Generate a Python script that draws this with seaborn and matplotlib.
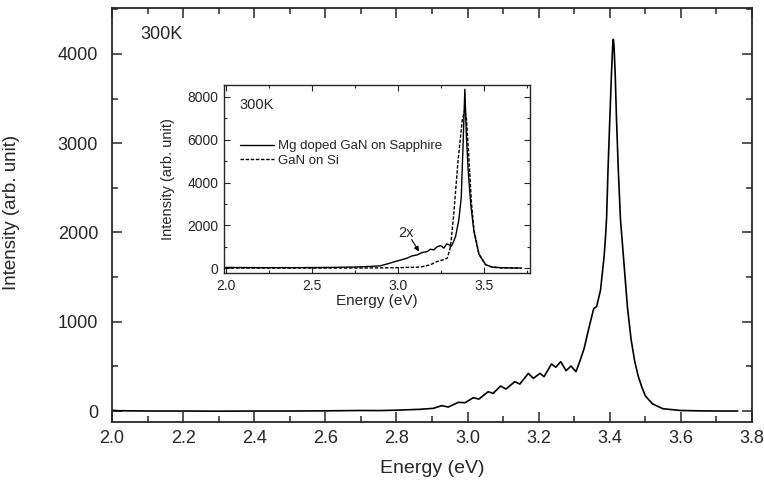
import numpy as np
import pandas as pd
import seaborn as sns
import matplotlib
matplotlib.use("Agg")
import matplotlib.pyplot as plt
from matplotlib.ticker import MultipleLocator

# main spectrum
main_energy = [2.00, 2.02, 2.05, 2.10, 2.20, 2.30, 2.40, 2.50, 2.60, 2.70, 2.754,
               2.81, 2.866, 2.904, 2.927, 2.946, 2.974, 2.993, 3.016, 3.032, 3.058,
               3.072, 3.093, 3.108, 3.133, 3.147, 3.171, 3.185, 3.204, 3.215, 3.236,
               3.248, 3.262, 3.277, 3.291, 3.305, 3.316, 3.328, 3.341, 3.355, 3.363,
               3.374, 3.384, 3.388, 3.391, 3.395, 3.400, 3.405, 3.408, 3.410, 3.412,
               3.415, 3.419, 3.424, 3.43, 3.44, 3.45, 3.46, 3.47, 3.48, 3.49,
               3.50, 3.52, 3.55, 3.60, 3.65, 3.70, 3.76]
main_intensity = [8, 3, 2, 0, 0, -2, 0, 0, 2, 6, 5,
                  11, 19, 30, 60, 45, 97, 93, 149, 134, 216,
                  198, 280, 246, 329, 302, 422, 366, 422, 384, 527,
                  490, 553, 452, 504, 441, 560, 702, 926, 1150, 1169,
                  1356, 1729, 1950, 2160, 2700, 3260, 3800, 4080, 4165, 4080,
                  3800, 3260, 2700, 2150, 1650, 1150, 800, 560, 390, 270,
                  170, 80, 25, 6, 2, 0, 0]

# inset: Mg doped GaN on Sapphire (2x)
mg_energy = [2.00, 2.20, 2.40, 2.60, 2.75, 2.85, 2.901, 2.95, 2.988, 3.02, 3.056,
             3.08, 3.115, 3.14, 3.173, 3.19, 3.211, 3.23, 3.25, 3.269, 3.285,
             3.298, 3.31, 3.318, 3.337, 3.356, 3.37, 3.38, 3.391, 3.40, 3.41,
             3.425, 3.444, 3.473, 3.512, 3.55, 3.60, 3.65, 3.72]
mg_intensity = [30, 20, 20, 30, 50, 80, 107, 220, 310, 380, 466,
                560, 620, 720, 775, 880, 853, 1000, 1054, 932, 1130,
                1100, 1007, 1100, 1473, 2252, 3300, 5600, 8360, 6200, 4600,
                3000, 1700, 650, 154, 50, 20, 10, 0]

# inset: GaN on Si
si_energy = [2.00, 2.40, 2.80, 2.90, 3.00, 3.134, 3.19, 3.231, 3.27, 3.289, 3.308,
             3.327, 3.35, 3.376, 3.391, 3.40, 3.414, 3.43, 3.444, 3.473, 3.512,
             3.55, 3.60, 3.72]
si_intensity = [0, 0, 5, 10, 20, 47, 154, 310, 400, 467, 1010,
                2570, 4900, 6930, 7400, 7000, 5200, 3000, 1800, 650, 150,
                40, 10, 0]

labels = ["Mg doped GaN on Sapphire", "GaN on Si"]

sns.set_style("ticks")
plt.rcParams['font.family'] = ['Liberation Sans', 'DejaVu Sans']
plt.rcParams['xtick.direction'] = 'in'
plt.rcParams['ytick.direction'] = 'in'

fig = plt.figure(figsize=(7.64, 4.86), dpi=100)
ax = fig.add_axes([112 / 764, 1 - 422 / 486, 640 / 764, 414 / 486])

sns.lineplot(x=main_energy, y=main_intensity, color='black', linewidth=1.2, ax=ax)
ax.set_xlim(2.0, 3.8)
ax.set_ylim(-123, 4515)
ax.xaxis.set_major_locator(MultipleLocator(0.2))
ax.xaxis.set_minor_locator(MultipleLocator(0.1))
ax.yaxis.set_major_locator(MultipleLocator(1000))
ax.yaxis.set_minor_locator(MultipleLocator(500))
ax.xaxis.set_major_formatter(plt.FuncFormatter(lambda v, p: f"{v:.1f}"))
ax.tick_params(which='both', top=True, right=True, width=1.1)
ax.tick_params(which='major', length=7.5)
ax.tick_params(which='minor', length=4.3)
ax.tick_params(axis='x', which='major', labelsize=13, pad=6)
ax.tick_params(axis='y', which='major', labelsize=13, pad=10)
for s in ax.spines.values():
    s.set_linewidth(1.3)
ax.set_xlabel("Energy (eV)", fontsize=14, labelpad=9)
ax.set_ylabel("Intensity (arb. unit)", fontsize=13.5)
ax.yaxis.set_label_coords(-0.143, 0.505)
ax.text(0.044, 0.935, "300K", transform=ax.transAxes, fontsize=13,
        ha='left', va='center')

# inset
ins = fig.add_axes([224 / 764, 1 - 273 / 486, 306 / 764, 188 / 486])
inset_df = pd.concat([
    pd.DataFrame({"Energy": mg_energy, "Intensity": mg_intensity, "Sample": labels[0]}),
    pd.DataFrame({"Energy": si_energy, "Intensity": si_intensity, "Sample": labels[1]}),
])
sns.lineplot(data=inset_df, x="Energy", y="Intensity", style="Sample",
             dashes={labels[0]: "", labels[1]: (2.5, 1.2)}, color='black',
             linewidth=1.0, ax=ins)
ins.set_xlim(1.99, 3.77)
ins.set_ylim(-230, 8560)
ins.xaxis.set_major_locator(MultipleLocator(0.5))
ins.xaxis.set_minor_locator(MultipleLocator(0.25))
ins.yaxis.set_major_locator(MultipleLocator(2000))
ins.yaxis.set_minor_locator(MultipleLocator(1000))
ins.xaxis.set_major_formatter(plt.FuncFormatter(lambda v, p: f"{v:.1f}"))
ins.tick_params(which='both', top=True, right=True, width=0.8)
ins.tick_params(which='major', length=4)
ins.tick_params(which='minor', length=2.5)
ins.tick_params(axis='both', which='major', labelsize=10, pad=4)
for s in ins.spines.values():
    s.set_linewidth(1.0)
ins.set_xlabel("Energy (eV)", fontsize=11, labelpad=1)
ins.set_ylabel("Intensity (arb. unit)", fontsize=10.5)
ins.yaxis.set_label_coords(-0.16, 0.5)
ins.text(0.05, 0.894, "300K", transform=ins.transAxes, fontsize=10.5,
         ha='left', va='center')
ins.legend(loc='upper left', bbox_to_anchor=(0.035, 0.735), frameon=False,
           fontsize=9.5, handlelength=2.6, handletextpad=0.3,
           labelspacing=0.15, borderaxespad=0, title=None)
ins.text(3.05, 1650, "2x", fontsize=10.5, ha='center', va='center')
ins.annotate("", xy=(3.124, 776), xytext=(3.082, 1330),
             arrowprops=dict(arrowstyle='-|>', color='black', lw=0.8,
                             shrinkA=0, shrinkB=0, mutation_scale=7))

fig.savefig("out.png", dpi=100)
